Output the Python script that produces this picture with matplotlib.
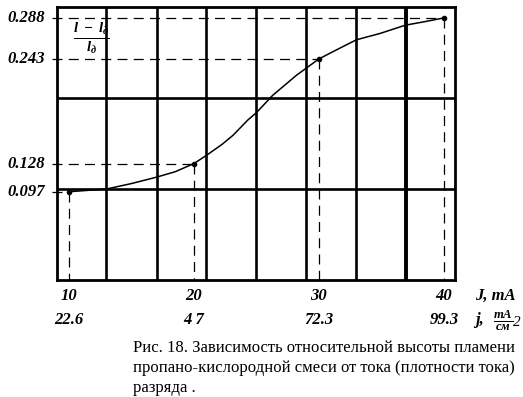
import matplotlib.pyplot as plt
import numpy as np

plt.rcParams['mathtext.fontset'] = 'custom'
plt.rcParams['mathtext.it'] = 'Liberation Serif:italic:bold'
plt.rcParams['mathtext.rm'] = 'Liberation Serif:italic:bold'

# measured points (current J, mA -> relative flame height)
J_pts = [10, 20, 30, 40]
h_pts = [0.097, 0.128, 0.243, 0.288]
j_labels = ["22.6", "4 7", "72.3", "99.3"]
h_labels = ["0.097", "0.128", "0.243", "0.288"]

# curve
J_curve = [10, 11, 13.0, 15.0, 17.0, 18.5, 20, 21.0, 22.24, 23.12, 24.32, 25.0,
           26.3, 28.2, 29.0, 30, 31.7, 33.0, 34.9, 36.9, 38.5, 40]
h_curve = [0.097, 0.098, 0.100, 0.106, 0.113, 0.119, 0.128, 0.137, 0.149, 0.159,
           0.176, 0.184, 0.203, 0.225, 0.233, 0.243, 0.255, 0.264, 0.271, 0.280,
           0.284, 0.288]

fig = plt.figure(figsize=(5.23, 3.97), dpi=100)
ax = fig.add_axes([57 / 523, 1 - 280 / 397, 398 / 523, 273 / 397])
ax.set_xlim(9.04, 40.88)
ax.set_ylim(0, 0.3)

for s in ax.spines.values():
    s.set_linewidth(2.0)

# grid
for gx in [13, 17, 21, 25, 29, 33]:
    ax.axvline(gx, color="black", lw=1.9)
ax.axvline(37, color="black", lw=2.8)
for gy in [0.1, 0.2]:
    ax.axhline(gy, color="black", lw=1.9)

# dashed guides
for x, y in zip(J_pts, h_pts):
    ax.plot([8.6, x], [y, y], color="black", lw=0.9, dashes=(8, 5), clip_on=False)
    ax.plot([x, x], [y, 0], color="black", lw=0.9, dashes=(8, 5))

ax.plot(J_curve, h_curve, color="black", lw=1.1)
ax.plot(J_pts, h_pts, "o", color="black", ms=3)

ax.set_xticks([])
ax.set_yticks([])

num_font = dict(family="Liberation Serif", weight="bold", style="italic", size=12)
xt = ax.get_xaxis_transform()
for x, lab in zip(J_pts, j_labels):
    ax.text(x, -0.058, str(x), transform=xt, ha="center", va="center", **num_font)
    ax.text(x, -0.146, lab, transform=xt, ha="center", va="center", **num_font)
yt = ax.get_yaxis_transform()
for y, lab in zip(h_pts, h_labels):
    ax.text(-0.03, y, lab, transform=yt, ha="right", va="center", **num_font)

fig.text(475 / 523, 1 - 296 / 397, "J, mA", ha="left", va="center", **num_font)
fig.text(475 / 523, 1 - 320 / 397, "j,", ha="left", va="center", **num_font)
fig.text(503 / 523, 1 - 320 / 397, r"$\frac{mA}{см}$", ha="center", va="center", size=13)
fig.text(513 / 523, 1 - 323 / 397, "2", ha="left", va="center",
         family="Liberation Serif", style="italic", size=11)

ax.text(0.085, 0.885, r"$\frac{l\ -\ l_{д}}{l_{д}}$", transform=ax.transAxes,
        ha="center", va="center", size=15)

fig.text(133 / 523, 1 - 368 / 397,
         "Рис. 18. Зависимость относительной высоты пламени\n"
         "пропано-кислородной смеси от тока (плотности тока)\n"
         "разряда .",
         ha="left", va="center", family="Liberation Serif", size=12,
         linespacing=1.32)

fig.savefig("out.png", dpi=100)
